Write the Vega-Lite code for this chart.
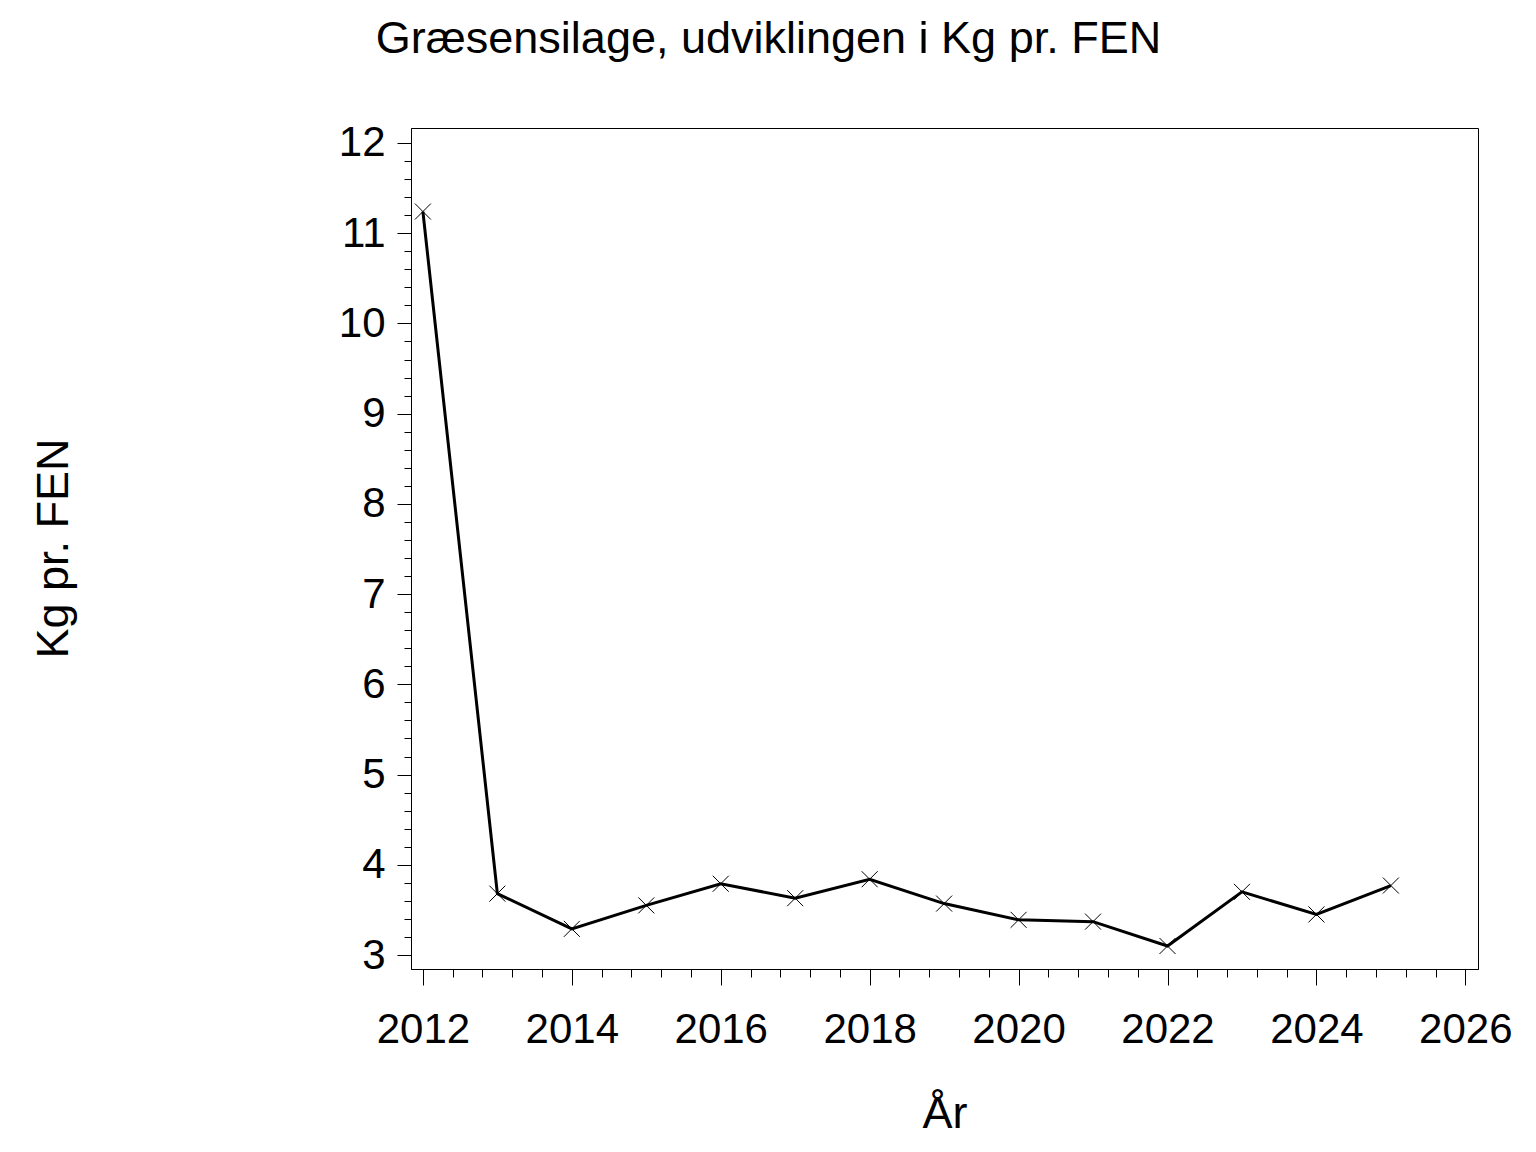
{
  "$schema": "https://vega.github.io/schema/vega-lite/v6.json",
  "autosize": "none",
  "width": 1067,
  "height": 841,
  "padding": {"left": 411, "top": 128, "right": 58, "bottom": 183},
  "background": "white",
  "config": {
    "view": {"stroke": "black", "strokeWidth": 1},
    "font": "Liberation Sans"
  },
  "title": {
    "text": "Græsensilage, udviklingen i Kg pr. FEN",
    "anchor": "middle",
    "frame": "group",
    "dx": -176,
    "offset": 24,
    "baseline": "alphabetic",
    "fontSize": 45,
    "fontWeight": "normal",
    "font": "Liberation Sans",
    "color": "black"
  },
  "data": {
    "values": [
      {"year": 2012, "kg": 11.24},
      {"year": 2013, "kg": 3.68},
      {"year": 2014, "kg": 3.29},
      {"year": 2015, "kg": 3.55},
      {"year": 2016, "kg": 3.79},
      {"year": 2017, "kg": 3.63},
      {"year": 2018, "kg": 3.84},
      {"year": 2019, "kg": 3.57},
      {"year": 2020, "kg": 3.39},
      {"year": 2021, "kg": 3.37},
      {"year": 2022, "kg": 3.10},
      {"year": 2023, "kg": 3.70},
      {"year": 2024, "kg": 3.45},
      {"year": 2025, "kg": 3.77}
    ]
  },
  "encoding": {
    "x": {
      "field": "year",
      "type": "quantitative",
      "scale": {"domain": [2011.84, 2026.17], "nice": false, "zero": false},
      "axis": {
        "title": "År",
        "titleFontSize": 45,
        "titleFontWeight": "normal",
        "titleColor": "black",
        "titleY": 158,
        "titleBaseline": "alphabetic",
        "values": [2012, 2012.4, 2012.8, 2013.2, 2013.6, 2014, 2014.4, 2014.8, 2015.2, 2015.6, 2016, 2016.4, 2016.8, 2017.2, 2017.6, 2018, 2018.4, 2018.8, 2019.2, 2019.6, 2020, 2020.4, 2020.8, 2021.2, 2021.6, 2022, 2022.4, 2022.8, 2023.2, 2023.6, 2024, 2024.4, 2024.8, 2025.2, 2025.6, 2026],
        "labelExpr": "abs(datum.value/2 - round(datum.value/2)) < 0.001 ? format(datum.value, 'd') : ''",
        "labelOverlap": false,
        "labelFlush": false,
        "labelFontSize": 42,
        "labelColor": "black",
        "labelPadding": 24,
        "labelBaseline": "top",
        "tickSize": {"condition": {"test": "abs(datum.value/2 - round(datum.value/2)) < 0.001", "value": 16}, "value": 8},
        "tickColor": "black",
        "tickWidth": 1,
        "domainColor": "black",
        "grid": false
      }
    },
    "y": {
      "field": "kg",
      "type": "quantitative",
      "scale": {"domain": [2.845, 12.166], "nice": false, "zero": false},
      "axis": {
        "title": "Kg pr. FEN",
        "titleFontSize": 45,
        "titleFontWeight": "normal",
        "titleColor": "black",
        "titleAngle": -90,
        "titleX": -358,
        "titleY": 420,
        "titleAlign": "center",
        "titleBaseline": "middle",
        "values": [3, 3.2, 3.4, 3.6, 3.8, 4, 4.2, 4.4, 4.6, 4.8, 5, 5.2, 5.4, 5.6, 5.8, 6, 6.2, 6.4, 6.6, 6.8, 7, 7.2, 7.4, 7.6, 7.8, 8, 8.2, 8.4, 8.6, 8.8, 9, 9.2, 9.4, 9.6, 9.8, 10, 10.2, 10.4, 10.6, 10.8, 11, 11.2, 11.4, 11.6, 11.8, 12],
        "labelExpr": "abs(datum.value - round(datum.value)) < 0.001 ? format(datum.value, 'd') : ''",
        "labelOverlap": false,
        "labelFlush": false,
        "labelFontSize": 42,
        "labelColor": "black",
        "labelPadding": 12,
        "tickSize": {"condition": {"test": "abs(datum.value - round(datum.value)) < 0.001", "value": 14}, "value": 7},
        "tickColor": "black",
        "tickWidth": 1,
        "domainColor": "black",
        "grid": false
      }
    }
  },
  "layer": [
    {
      "mark": {"type": "line", "color": "black", "strokeWidth": 3}
    },
    {
      "mark": {
        "type": "point",
        "shape": "M-1,-1L1,1M-1,1L1,-1",
        "size": 256,
        "filled": false,
        "stroke": "black",
        "strokeWidth": 1,
        "opacity": 1
      }
    }
  ]
}
